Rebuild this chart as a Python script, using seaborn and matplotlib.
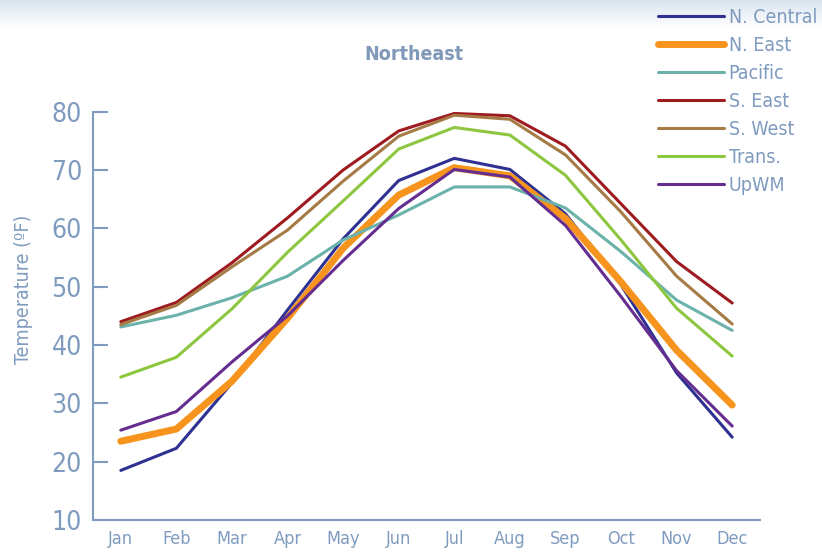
import numpy as np
import pandas as pd
import matplotlib
matplotlib.use('Agg')
import matplotlib.pyplot as plt
import seaborn as sns
from matplotlib import font_manager

months = ['Jan', 'Feb', 'Mar', 'Apr', 'May', 'Jun', 'Jul', 'Aug', 'Sep', 'Oct', 'Nov', 'Dec']

n_central = [18.5, 22.3, 33.5, 46.0, 58.2, 68.2, 72.0, 70.1, 62.5, 50.3, 35.2, 24.2]
n_east = [23.5, 25.6, 33.8, 44.6, 56.6, 65.7, 70.4, 69.0, 61.7, 50.8, 39.1, 29.7]
pacific = [43.1, 45.1, 48.1, 51.8, 58.0, 62.3, 67.1, 67.1, 63.5, 56.0, 47.7, 42.5]
s_east = [44.0, 47.3, 54.1, 61.8, 70.0, 76.7, 79.7, 79.3, 74.1, 64.2, 54.3, 47.2]
s_west = [43.5, 46.8, 53.4, 59.7, 68.1, 75.8, 79.4, 78.7, 72.6, 62.8, 51.8, 43.6]
trans = [34.5, 37.9, 46.2, 55.9, 64.7, 73.6, 77.3, 76.0, 69.1, 58.0, 46.3, 38.1]
upwm = [25.4, 28.6, 37.1, 45.0, 54.5, 63.4, 70.1, 68.8, 60.5, 48.3, 35.6, 26.1]

regions = ['N. Central', 'N. East', 'Pacific', 'S. East', 'S. West', 'Trans.', 'UpWM']
series = [n_central, n_east, pacific, s_east, s_west, trans, upwm]
colors = ['#2e3192', '#f7941d', '#6ab2aa', '#9e1b20', '#a57a45', '#8dc63f', '#662d91']
widths = [2.2, 5.0, 2.2, 2.2, 2.2, 2.2, 2.2]

title = 'Northeast'
ylabel = 'Temperature (ºF)'

# fuente estrecha si existe
names = {f.name for f in font_manager.fontManager.ttflist}
narrow = 'Liberation Sans Narrow' if 'Liberation Sans Narrow' in names else 'DejaVu Sans'

sns.set_style('white')
plt.rcParams['font.family'] = [narrow, 'DejaVu Sans']
plt.rcParams['font.stretch'] = 'condensed'

txt = '#7f9bbf'

fig = plt.figure(figsize=(8.22, 5.52), dpi=100)

# degradado azul arriba
bg = fig.add_axes([0, 0.95, 1, 0.05], zorder=-5)
grad = np.linspace(1, 0, 50).reshape(-1, 1)
bg.imshow(grad, aspect='auto', cmap=matplotlib.colors.LinearSegmentedColormap.from_list('g', ['#ffffff', '#dae4f0']),
          extent=[0, 1, 0, 1])
bg.axis('off')

ax = fig.add_axes([93 / 822, 1 - 520 / 552, 667 / 822, (520 - 111.7) / 552])

df = pd.DataFrame({'month': months * len(regions),
                   'temp': sum(series, []),
                   'region': np.repeat(regions, len(months))})

for reg, col, lw in zip(regions, colors, widths):
    sub = df[df['region'] == reg]
    sns.lineplot(data=sub, x='month', y='temp', color=col, lw=lw, ax=ax, label=reg,
                 sort=False, solid_capstyle='round', solid_joinstyle='miter')

ax.set_xlim(-0.5, 11.5)
ax.set_ylim(10, 80)
ax.set_yticks(range(10, 81, 10))
ax.set_xticks(range(12))
ax.set_xticklabels(months)
ax.set_xticks(np.arange(-0.5, 12, 1), minor=True)
ax.tick_params(axis='x', which='major', length=0, pad=7, labelsize=13, labelcolor=txt)
ax.tick_params(axis='x', which='minor', direction='in', length=9, width=1.5, color=txt)
ax.tick_params(axis='y', direction='in', length=11, width=1.5, color=txt, pad=8,
               labelsize=19, labelcolor=txt, left=True)

for s in ['top', 'right']:
    ax.spines[s].set_visible(False)
for s in ['left', 'bottom']:
    ax.spines[s].set_color(txt)
    ax.spines[s].set_linewidth(1.5)

ax.set_xlabel('')
ax.set_ylabel(ylabel, color=txt, fontsize=14)
ax.yaxis.set_label_coords(-0.09, 0.565)

fig.text(414 / 822, 1 - 54 / 552, title, color='#8199b8', fontsize=14, fontweight='bold',
         ha='center', va='center')

handles, labels = ax.get_legend_handles_labels()
if ax.legend_:
    ax.legend_.remove()
fig.legend(handles, labels, loc='upper left', bbox_to_anchor=(648 / 822, 1.003), frameon=False,
           fontsize=14, labelcolor=txt, handlelength=3.4, handletextpad=0.25,
           labelspacing=0.46, borderpad=0.0)

fig.savefig('out.png', dpi=100)
